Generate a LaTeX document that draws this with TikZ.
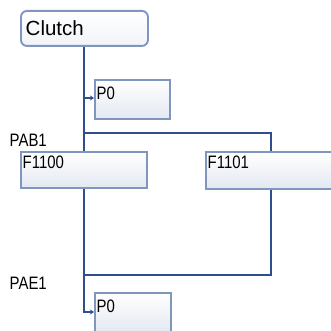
\documentclass[tikz,border=0pt]{standalone}
\usepackage{fontspec}
\setmainfont{Liberation Sans}
\newfontfamily\narrowfont[FakeStretch=0.83]{Liberation Sans}
\usetikzlibrary{arrows.meta}
\definecolor{wire}{HTML}{2E4E8E}
\definecolor{boxedge}{HTML}{8196BF}
\definecolor{boxbot}{HTML}{E3E8F1}
\tikzset{
  wireline/.style={draw=wire,line width=2.6pt},
  boxstyle/.style={draw=boxedge,line width=1.9pt,top color=white,bottom color=boxbot,rectangle,inner sep=0pt,anchor=north west},
  lbl/.style={inner sep=0pt,font=\narrowfont\fontsize{18}{18}\selectfont,anchor=west},
  tip/.style={-{Stealth[length=4pt,width=5pt]}}
}
\begin{document}
\begin{tikzpicture}[x=1pt,y=-1pt]
\useasboundingbox (0,0) rectangle (331,331);
% boxes
\node[boxstyle,rounded corners=6pt,minimum width=127pt,minimum height=35pt,bottom color=boxbot!50] (clutch) at (20,10) {};
\node[inner sep=0pt,anchor=west,font=\fontsize{20.5}{20.5}\selectfont] (clutchtxt) at (25.5,28) {Clutch};
\node[boxstyle,minimum width=75pt,minimum height=39pt] (p0a) at (94,79) {};
\node[lbl] (p0atxt) at (96.5,93.5) {P0};
\node[boxstyle,minimum width=126pt,minimum height=36pt] (f1100) at (20,151) {};
\node[lbl] (f1100txt) at (22.5,162.5) {F1100};
\node[boxstyle,minimum width=130pt,minimum height=37pt] (f1101) at (205,151) {};
\node[lbl] (f1101txt) at (207.5,162.5) {F1101};
\node[boxstyle,minimum width=76pt,minimum height=40pt] (p0b) at (94,292) {};
\node[lbl] (p0btxt) at (96.5,306.5) {P0};
\node[lbl] (pab1) at (9.5,140) {PAB1};
\node[lbl] (pae1) at (9.5,283) {PAE1};
% wires
\coordinate (ja) at (84,133);
\coordinate (jb) at (271,133);
\coordinate (tapa) at (84,98);
\coordinate (jc) at (84,275);
\coordinate (jd) at (271,275);
\coordinate (je) at (84,312);
\draw[wireline] (clutch.south -| ja) -- (ja) -- (jb) -- (f1101.north -| jb);
\draw[wireline] (ja) -- (f1100.north -| ja);
\draw[draw=wire,line width=1.6pt,tip] (tapa) -- (tapa -| p0a.west);
\draw[wireline] (f1100.south -| jc) -- (jc) -- (jd) -- (f1101.south -| jd);
\draw[wireline] (jc) -- (je) -- ([xshift=-4pt]je -| p0b.west);
\draw[draw=wire,line width=1.6pt,tip] ([xshift=-5pt]je -| p0b.west) -- (je -| p0b.west);
\end{tikzpicture}
\end{document}
